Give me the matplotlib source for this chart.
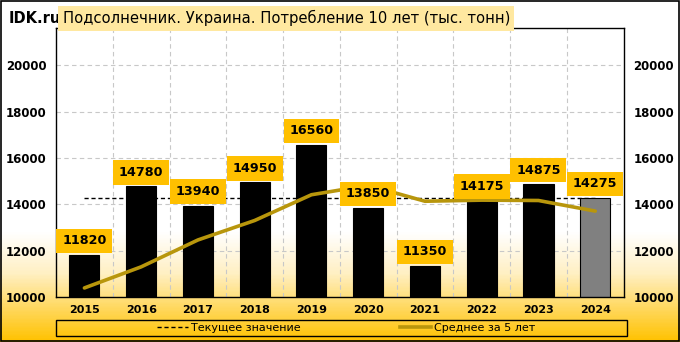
import numpy as np
import matplotlib.pyplot as plt
from matplotlib.colors import LinearSegmentedColormap
from matplotlib.lines import Line2D

# data
years = ['2015', '2016', '2017', '2018', '2019', '2020', '2021', '2022', '2023', '2024']
consumption = [11820, 14780, 13940, 14950, 16560, 13850, 11350, 14175, 14875, 14275]
avg5 = [10390, 11300, 12460, 13300, 14410, 14816, 14130, 14177, 14162, 13705]
current = 14275
yticks = [10000, 12000, 14000, 16000, 18000, 20000]

title = 'Подсолнечник. Украина. Потребление 10 лет (тыс. тонн)'
gold = '#B8960C'
label_bg = '#FFC000'

fig = plt.figure(figsize=(6.8, 3.42), dpi=100)

# background gradient: white at top, golden yellow at the bottom
bg = fig.add_axes([0, 0, 1, 1], zorder=-10)
grad = np.linspace(0, 1, 342).reshape(-1, 1)
cmap = LinearSegmentedColormap.from_list(
    'bg', [(0, '#FFFFFF'), (0.68, '#FFFFFF'), (0.80, '#FFF0C4'), (1.0, '#FFC200')])
bg.imshow(grad, aspect='auto', cmap=cmap, extent=[0, 1, 0, 1], origin='upper')
bg.set_xlim(0, 1)
bg.set_ylim(0, 1)
bg.axis('off')
bg.add_patch(plt.Rectangle((0.001, 0.002), 0.997, 0.995, fill=False,
                           edgecolor='black', lw=1.2))
# legend frame
bg.add_patch(plt.Rectangle((0.0824, 0.0175), 0.8397, 0.0468, fill=False,
                           edgecolor='black', lw=1))

ax = fig.add_axes([0.0824, 0.1316, 0.8347, 0.7864])
ax.patch.set_alpha(0)
x = np.arange(len(years))

ax.plot([x[0], x[-1]], [current, current], color='black', ls=(0, (3, 2)), lw=1, zorder=1)
colors = ['black'] * (len(years) - 1) + ['#808080']
ax.bar(x, consumption, width=0.53, color=colors, edgecolor='black', lw=0.8, zorder=2)
ax.plot(x, avg5, color=gold, lw=2.6, zorder=3, solid_capstyle='round')

for xi, v in zip(x, consumption):
    ax.text(xi, v + 600, str(v), ha='center', va='center', fontsize=9.2, fontweight='bold',
            zorder=5, bbox=dict(boxstyle='square,pad=0.45', fc=label_bg, ec='none'))

ax.set_xlim(-0.5, 9.5)
ax.set_ylim(10000, 21600)
ax.set_yticks(yticks)
ax.set_xticks(x)
ax.set_xticklabels(years, fontsize=8, fontweight='bold')
ax.set_yticklabels([str(t) for t in yticks], fontsize=8.5, fontweight='bold')
ax.tick_params(length=0, pad=6)
ax.tick_params(axis='y', labelright=True, pad=7)
ax.set_xticks(x[:-1] + 0.5, minor=True)
ax.tick_params(which='minor', length=0)
ax.grid(True, which='minor', axis='x', color='#C8C8C8', ls=(0, (4, 3)), lw=0.8)
ax.grid(True, which='major', axis='y', color='#C8C8C8', ls=(0, (4, 3)), lw=0.8)
ax.set_axisbelow(True)
for s in ax.spines.values():
    s.set_linewidth(1)

handles = [Line2D([], [], color='black', ls=(0, (3, 2)), lw=1),
           Line2D([], [], color=gold, lw=2.6)]
leg = fig.legend(handles, ['Текущее значение', 'Среднее за 5 лет'], ncol=2,
                 loc='center', bbox_to_anchor=(0.509, 0.041),
                 frameon=False, fontsize=8, handlelength=2.8,
                 handletextpad=0.3, columnspacing=8.9, borderpad=0)

fig.text(0.012, 0.945, 'IDK.ru', fontsize=10.5, fontweight='bold', va='center')
fig.text(0.092, 0.947, title, fontsize=10.6, va='center',
         bbox=dict(boxstyle='square,pad=0.3', fc='#FFE8A0', ec='none'))

fig.savefig('out.png', dpi=100)
